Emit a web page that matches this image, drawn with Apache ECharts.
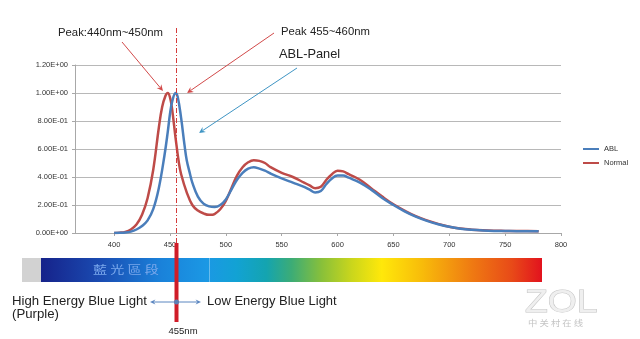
<!DOCTYPE html>
<html>
<head>
<meta charset="utf-8">
<script src="https://cdn.jsdelivr.net/npm/echarts@6/dist/echarts.min.js"></script>
<style>html,body{margin:0;padding:0;background:#fff}#c{width:640px;height:339px}</style>
</head>
<body>
<div id="c"></div>
<script>
// ---- data ----
var seriesNames = ['ABL', 'Normal'];
var ablWavelengths = [400,405,410,415,420,425,430,435,440,445,448,450,452,455,457,460,463,465,468,470,475,480,485,490,495,500,505,510,515,520,525,530,535,540,550,560,570,575,580,585,590,595,600,605,610,620,630,640,650,660,670,680,690,700,710,720,730,740,750,760,770,780];
var ablValues =      [0,0.001,0.003,0.01,0.025,0.05,0.09,0.17,0.32,0.55,0.72,0.85,0.94,1.0,0.97,0.82,0.63,0.52,0.42,0.36,0.26,0.21,0.19,0.185,0.2,0.24,0.31,0.38,0.43,0.46,0.47,0.46,0.445,0.425,0.39,0.36,0.33,0.31,0.29,0.3,0.35,0.39,0.41,0.41,0.395,0.36,0.31,0.25,0.2,0.155,0.117,0.087,0.063,0.044,0.031,0.023,0.018,0.015,0.014,0.013,0.013,0.012];
var normalWavelengths = [400,405,410,415,420,425,430,435,440,443,446,448,450,452,455,458,460,465,470,475,480,485,488,490,495,500,505,510,515,520,525,530,535,540,550,560,570,575,580,585,590,595,600,605,610,620,630,640,650,660,670,680,690,700,710,720,730,740,750,760,770,780];
var normalValues =      [0,0.002,0.008,0.025,0.06,0.13,0.25,0.45,0.75,0.9,0.98,1.0,0.97,0.88,0.68,0.5,0.42,0.29,0.2,0.16,0.14,0.13,0.13,0.135,0.17,0.23,0.32,0.41,0.47,0.505,0.52,0.515,0.5,0.47,0.43,0.4,0.36,0.34,0.32,0.33,0.38,0.42,0.445,0.44,0.42,0.38,0.32,0.26,0.205,0.16,0.12,0.09,0.065,0.045,0.032,0.024,0.019,0.016,0.015,0.014,0.014,0.013];
var xTickLabels = [400,450,500,550,600,650,700,750,800];
var markerWavelength = 455;

function toPairs(xs, ys){ return xs.map(function(x,i){ return [x, ys[i]]; }); }
function sci(v){
  if (Math.abs(v) < 1e-9) return '0.00E+00';
  var e = Math.floor(Math.log10(v) + 1e-9);
  var m = v / Math.pow(10, e);
  var s = e < 0 ? '-' : '+';
  var ae = Math.abs(e);
  return m.toFixed(2) + 'E' + s + (ae < 10 ? '0' + ae : ae);
}

var FONT = '"Liberation Sans", Arial, sans-serif';
var chart = echarts.init(document.getElementById('c'), null, {renderer: 'canvas'});
chart.setOption({
  animation: false,
  backgroundColor: '#ffffff',
  grid: {left: 75, right: 79, top: 65, bottom: 106, containLabel: false},
  legend: {
    orient: 'vertical', left: 578, top: 140, itemWidth: 16, itemHeight: 2, itemGap: 6,
    icon: 'rect',
    textStyle: {fontSize: 7.5, color: '#333', fontFamily: FONT},
    data: seriesNames
  },
  xAxis: {
    type: 'value', min: 365, max: 800,
    axisLine: {show: true, lineStyle: {color: '#a8a8a8', width: 1}},
    axisTick: {show: true, length: 3, customValues: xTickLabels, lineStyle: {color: '#a8a8a8'}},
    axisLabel: {customValues: xTickLabels, margin: 8, fontSize: 7.5, color: '#333', fontFamily: FONT},
    splitLine: {show: false}
  },
  yAxis: {
    type: 'value', min: 0, max: 1.2, interval: 0.2,
    axisLine: {show: true, lineStyle: {color: '#a8a8a8', width: 1}},
    axisTick: {show: true, length: 3, lineStyle: {color: '#a8a8a8'}},
    axisLabel: {margin: 7, fontSize: 7.5, color: '#333', fontFamily: FONT, formatter: sci},
    splitLine: {show: true, lineStyle: {color: '#b8b8b8', width: 1}}
  },
  series: [
    {name: seriesNames[0], type: 'line', data: toPairs(ablWavelengths, ablValues), showSymbol: false, smooth: 0.4,
     itemStyle: {color: '#4a7ebb'}, lineStyle: {color: '#4a7ebb', width: 2.5}, z: 3},
    {name: seriesNames[1], type: 'line', data: toPairs(normalWavelengths, normalValues), showSymbol: false, smooth: 0.4,
     itemStyle: {color: '#be4b48'}, lineStyle: {color: '#be4b48', width: 2.5}, z: 2}
  ]
});

var mx = Math.round(chart.convertToPixel({xAxisIndex: 0}, markerWavelength)) + 0.5;

function arrow(x1, y1, x2, y2, color, w, head){
  var a = Math.atan2(y2 - y1, x2 - x1), h = head || 6, s = 0.45;
  return [
    {type: 'line', shape: {x1: x1, y1: y1, x2: x2 - Math.cos(a)*h*0.6, y2: y2 - Math.sin(a)*h*0.6}, style: {stroke: color, lineWidth: w || 1}, z: 20},
    {type: 'polygon', shape: {points: [[x2, y2],
      [x2 - h*Math.cos(a - s), y2 - h*Math.sin(a - s)],
      [x2 - h*0.6*Math.cos(a), y2 - h*0.6*Math.sin(a)],
      [x2 - h*Math.cos(a + s), y2 - h*Math.sin(a + s)]]}, style: {fill: color}, z: 20}
  ];
}
function txt(x, y, t, size, color, extra, sx){
  var st = {text: t, fontSize: size, fill: color || '#222', fontFamily: FONT, verticalAlign: 'middle', align: 'left'};
  if (extra) for (var k in extra) st[k] = extra[k];
  return {type: 'text', x: x, y: y, scaleX: sx || 1, style: st, z: 30};
}

var g = [];
// spectrum bar
g.push({type: 'rect', shape: {x: 22, y: 258, width: 19, height: 24}, style: {fill: '#d2d2d2'}, z: 5});
g.push({type: 'rect', shape: {x: 41, y: 258, width: 501, height: 24}, style: {fill: new echarts.graphic.LinearGradient(0, 0, 1, 0, [
  {offset: 0.00, color: '#16228a'},
  {offset: 0.12, color: '#1a4cb2'},
  {offset: 0.24, color: '#1a82da'},
  {offset: 0.33, color: '#1b98e4'},
  {offset: 0.39, color: '#12a2d4'},
  {offset: 0.45, color: '#14a4b0'},
  {offset: 0.50, color: '#3cac76'},
  {offset: 0.56, color: '#88c03a'},
  {offset: 0.62, color: '#cad61c'},
  {offset: 0.68, color: '#ffe80a'},
  {offset: 0.76, color: '#f8bc0a'},
  {offset: 0.86, color: '#ef7a12'},
  {offset: 0.94, color: '#e84a18'},
  {offset: 1.00, color: '#e2121e'}
])}, z: 5});
g.push({type: 'line', shape: {x1: 209.5, y1: 258, x2: 209.5, y2: 282}, style: {stroke: 'rgba(255,255,255,0.35)', lineWidth: 1}, z: 6});
g.push(txt(93, 270, '藍 光 區 段', 11, '#7aa8ec', {fontFamily: '"Noto Sans CJK TC", sans-serif'}, 1.28));

// 455 nm marker lines
g.push({type: 'line', shape: {x1: mx, y1: 28, x2: mx, y2: 243}, style: {stroke: '#d43a3a', lineWidth: 1, lineDash: [5, 2, 1, 2]}, z: 15});
g.push({type: 'line', shape: {x1: mx, y1: 243, x2: mx, y2: 322}, style: {stroke: '#d01c28', lineWidth: 4}, z: 16});

// top annotations
g.push(txt(58, 33, 'Peak:440nm~450nm', 10.8, '#222', null, 1.05));
g.push(txt(281, 32, 'Peak 455~460nm', 11.3, '#222'));
g.push(txt(279, 54, 'ABL-Panel', 12.8, '#222'));
g = g.concat(arrow(122, 42, 163, 91, '#d24a4a', 1, 7));
g = g.concat(arrow(274, 33, 187, 93, '#d24a4a', 1, 7));
g = g.concat(arrow(297, 68, 199, 133, '#3f95c4', 1, 7));

// bottom annotations
g.push(txt(12, 302, 'High Energy Blue Light', 12, '#222', null, 1.1));
g.push(txt(12, 315, '(Purple)', 12, '#222', null, 1.1));
g.push(txt(207, 302, 'Low Energy Blue Light', 12, '#222', null, 1.08));
g.push(txt(mx - 8, 331, '455nm', 9.5, '#222'));
g = g.concat(arrow(mx, 302, 150, 302, '#5b86c0', 1, 6));
g = g.concat(arrow(mx, 302, 201, 302, '#5b86c0', 1, 6));
g.push({type: 'circle', shape: {cx: mx, cy: 302, r: 2.5}, style: {fill: '#5b7fb5'}, z: 22});

// watermark
g.push(txt(525, 303, 'ZOL', 31, '#efefef', {stroke: '#c4c4c4', lineWidth: 1}, 1.2));
g.push(txt(528, 323, '中 关 村 在 线', 8.5, '#c4c4c4', {fontFamily: '"Noto Sans CJK SC", sans-serif'}, 1.1));

chart.setOption({graphic: {elements: g}});
</script>
</body>
</html>
